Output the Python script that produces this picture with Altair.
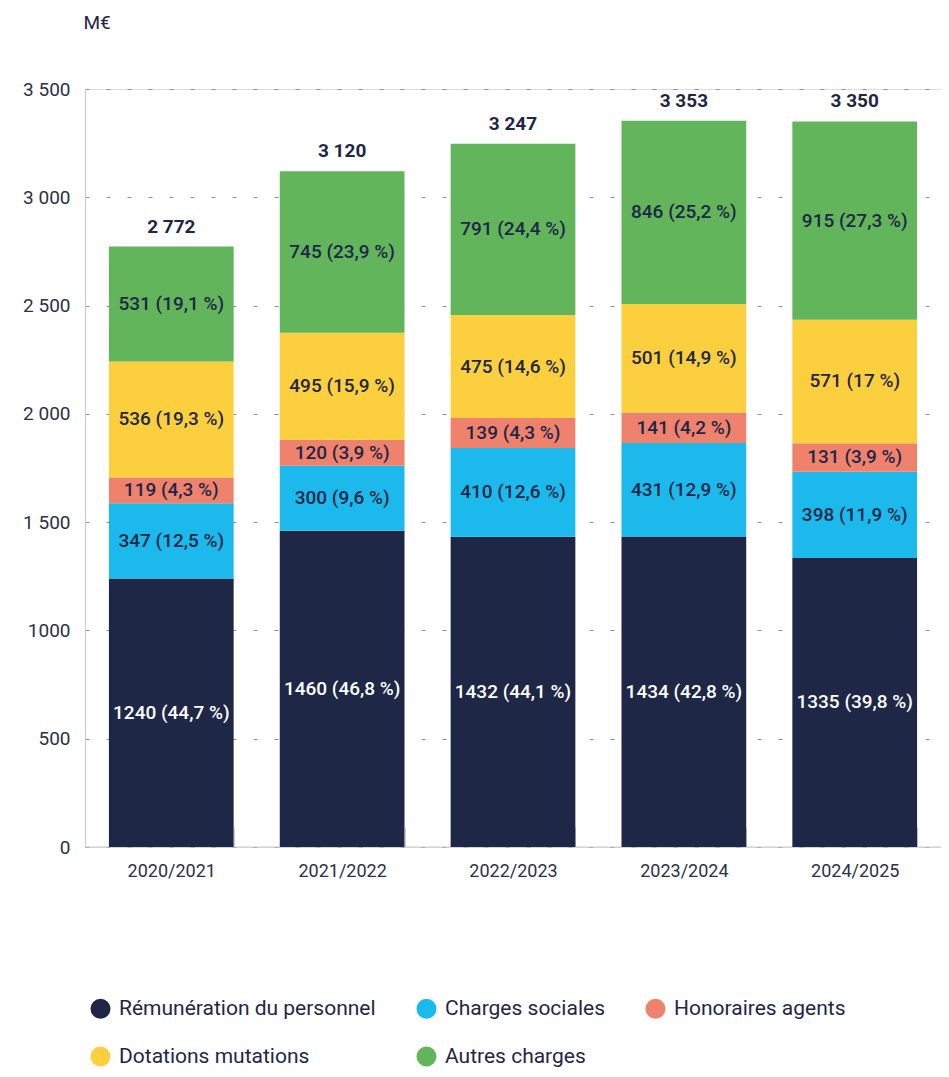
import altair as alt
import pandas as pd

seasons = ["2020/2021", "2021/2022", "2022/2023", "2023/2024", "2024/2025"]
categories = ["Rémunération du personnel", "Charges sociales", "Honoraires agents",
              "Dotations mutations", "Autres charges"]
remuneration = [1240, 1460, 1432, 1434, 1335]
charges_sociales = [347, 300, 410, 431, 398]
honoraires = [119, 120, 139, 141, 131]
dotations = [536, 495, 475, 501, 571]
autres = [531, 745, 791, 846, 915]
pct_remuneration = ["44,7", "46,8", "44,1", "42,8", "39,8"]
pct_charges = ["12,5", "9,6", "12,6", "12,9", "11,9"]
pct_honoraires = ["4,3", "3,9", "4,3", "4,2", "3,9"]
pct_dotations = ["19,3", "15,9", "14,6", "14,9", "17"]
pct_autres = ["19,1", "23,9", "24,4", "25,2", "27,3"]
totals = [2772, 3120, 3247, 3353, 3350]
total_labels = ["2 772", "3 120", "3 247", "3 353", "3 350"]
y_ticks = [0, 500, 1000, 1500, 2000, 2500, 3000, 3500]
y_tick_labels = ["0", "500", "1000", "1 500", "2 000", "2 500", "3 000", "3 500"]
colors = ["#1e2746", "#1bb9ec", "#ef826c", "#fbcf3d", "#62b55b"]

NAVY = "#1e2747"
FONT = "Roboto"

series = [remuneration, charges_sociales, honoraires, dotations, autres]
pcts = [pct_remuneration, pct_charges, pct_honoraires, pct_dotations, pct_autres]
rows = []
for k, cat in enumerate(categories):
    for i, s in enumerate(seasons):
        rows.append({
            "season": s, "category": cat, "order": k,
            "value": series[k][i],
            "label": f"{series[k][i]} ({pcts[k][i]} %)",
        })
df = pd.DataFrame(rows)
tot_df = pd.DataFrame({"season": seasons, "total": totals, "label": total_labels})

label_expr = ("[" + ",".join(f"'{l}'" for l in y_tick_labels) + "][indexof(["
              + ",".join(str(v) for v in y_ticks) + "], datum.value)]")

x_enc = alt.X(
    "season:N", sort=seasons,
    scale=alt.Scale(paddingInner=0.27, paddingOuter=0.14),
    axis=alt.Axis(title=None, domain=False, offset=-20, tickBand="extent",
                  tickSize=20, tickColor="#c8ccd6", tickWidth=1,
                  labelPadding=15, labelFontSize=18, labelFont=FONT,
                  labelColor="#2b3146", labelAngle=0, labelBaseline="top"),
)
y_axis = alt.Axis(title="M€", titleAngle=0, titleAlign="left", titleBaseline="middle",
                  titleX=-2, titleY=-67, titleFontSize=19, titleFont=FONT,
                  titleColor=NAVY, titleFontWeight="normal",
                  values=y_ticks, labelExpr=label_expr, labelFontSize=19,
                  labelFont=FONT, labelColor="#2b3146", labelPadding=15,
                  ticks=False, domainColor="#c8ccd6", domainWidth=1.2,
                  gridColor="#8a909e", gridDash=[4, 17], gridWidth=1.2)
y_scale = alt.Scale(domain=[0, 3500], nice=False)

base_rule = alt.Chart(pd.DataFrame({"v": [0]})).mark_rule(
    color="#c8ccd6", strokeWidth=1.2
).encode(y=alt.Y("v:Q", scale=y_scale, axis=y_axis))

bars = alt.Chart(df).mark_bar().encode(
    x=x_enc,
    y=alt.Y("value:Q", stack="zero", scale=y_scale, axis=y_axis),
    color=alt.Color("category:N", sort=categories,
                    scale=alt.Scale(domain=categories, range=colors),
                    legend=alt.Legend(title=None, orient="none", legendX=5, legendY=909,
                                      direction="horizontal", columns=3,
                                      symbolType="circle", symbolSize=400,
                                      symbolStrokeWidth=0, labelFontSize=21,
                                      labelFont=FONT, labelColor=NAVY, labelOffset=8,
                                      columnPadding=40, rowPadding=26, labelLimit=400)),
    order=alt.Order("order:Q", sort="ascending"),
)

seg_text = alt.Chart(df).transform_stack(
    stack="value", groupby=["season"], as_=["y0", "y1"],
    sort=[alt.SortField("order", order="ascending")],
).transform_calculate(
    mid="(datum.y0 + datum.y1) / 2"
).mark_text(font=FONT, fontSize=19, fontWeight=500, baseline="middle", align="center").encode(
    x=x_enc,
    y=alt.Y("mid:Q", scale=y_scale, axis=y_axis),
    text="label:N",
    color=alt.condition(alt.datum.order == 0, alt.value("white"), alt.value(NAVY)),
)

tot_text = alt.Chart(tot_df).mark_text(
    font=FONT, fontSize=19, fontWeight="bold", baseline="alphabetic",
    align="center", dy=-14, color=NAVY
).encode(
    x=x_enc,
    y=alt.Y("total:Q", scale=y_scale, axis=y_axis),
    text="label:N",
)

chart = alt.layer(base_rule, bars, seg_text, tot_text).properties(
    width=856, height=758,
    padding={"left": 77, "top": 81, "right": 0, "bottom": 222},
    autosize=alt.AutoSizeParams(type="none"),
).configure_view(stroke="transparent").configure(background="white")

chart.save("out.html", embed_options={"renderer": "svg", "actions": False})
